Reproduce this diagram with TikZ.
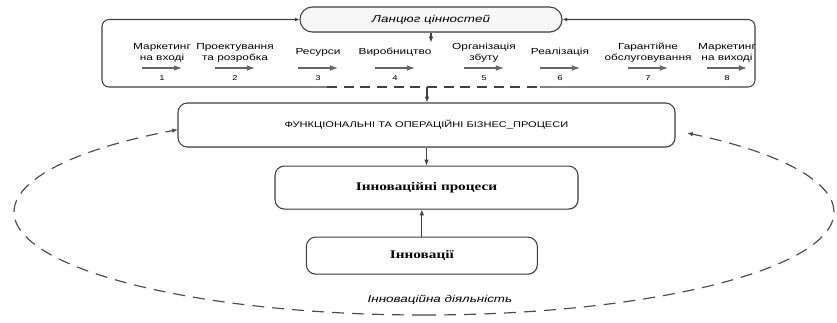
\documentclass[tikz,border=0pt]{standalone}
\usepackage{fontspec}
\setmainfont{Liberation Sans}
\newfontfamily\widesans{Liberation Sans}[FakeStretch=1.35]
\newfontfamily\wideserif{Liberation Serif}[FakeStretch=1.3]
\usepackage{tikz}
\usetikzlibrary{positioning,arrows.meta,shadows}

\tikzset{
  box/.style={draw=black!75, line width=0.9pt, rounded corners=8pt, fill=white, align=center,
    drop shadow={opacity=0.25, shadow xshift=0.8pt, shadow yshift=-0.8pt}},
  stage/.style={font=\widesans\fontsize{7.5}{9}\selectfont, align=center, inner sep=0pt},
  nr/.style={font=\widesans\fontsize{6}{7}\selectfont, inner sep=0pt},
  conn/.style={draw=black!75, line width=0.9pt},
  tip/.style={-{Latex[length=5pt,width=4pt]}},
  stagetip/.style={-{Latex[length=7pt,width=5pt]}, draw=black!60, line width=1pt},
  looparc/.style={draw=black!70, line width=1pt, dash pattern=on 3.6mm off 2.4mm},
}

\begin{document}
\begin{tikzpicture}
  \useasboundingbox (0,0) rectangle (25.11,-9.66);

  % Ланцюг цінностей
  \node[box, rounded corners=0.37cm, minimum width=7.86cm, minimum height=0.75cm, fill=gray!6,
        font=\widesans\itshape\fontsize{8.5}{10}\selectfont] (chain) at (12.93,-0.585) {Ланцюг цінностей};
  \coordinate[below=0.3cm of chain] (chin);
  \draw[conn, tip] (chain.south) -- (chin);

  % рамка навколо етапів
  \coordinate (lt) at (3.06,-0.585);
  \coordinate (lb) at (3.06,-2.61);
  \coordinate (rt) at (22.65,-0.585);
  \coordinate (rb) at (22.65,-2.61);
  \coordinate (gl) at (9.81,-2.61);
  \coordinate (gr) at (16.2,-2.61);
  \coordinate (gap) at (12.81,-2.61);
  \draw[conn, rounded corners=6pt, {Latex[length=4pt,width=3.5pt]}-] (chain.west) -- (lt) -- (lb) -- (gl);
  \draw[conn, rounded corners=6pt, {Latex[length=4pt,width=3.5pt]}-] (chain.east) -- (rt) -- (rb) -- (gr);
  \draw[conn, dash pattern=on 3mm off 2mm] (gl) -- (gr);

  % етапи
  \foreach \x/\txt [count=\i] in {4.86/{Маркетинг\\на вході}, 7.05/{Проектування\\та розробка},
      9.54/Ресурси, 11.85/Виробництво, 14.52/{Організація\\збуту}, 16.8/Реалізація,
      19.44/{Гарантійне\\обслуговування}, 21.81/{Маркетинг\\на виході}}{
    \node[stage] (st\i) at (\x,-1.58) {\txt};
    \coordinate (sa\i) at (\x-0.6,-2.04);
    \coordinate (sb\i) at (\x+0.6,-2.04);
    \draw[stagetip] (sa\i) -- (sb\i);
    \node[nr] (nr\i) at (\x,-2.33) {\i};
  }

  % процеси
  \node[box, minimum width=14.91cm, minimum height=1.32cm,
        font=\widesans\fontsize{7}{8}\selectfont] (func) at (12.795,-3.75)
        {ФУНКЦІОНАЛЬНІ ТА ОПЕРАЦІЙНІ БІЗНЕС\_ПРОЦЕСИ};
  \node[box, below=0.54cm of func, minimum width=9.09cm, minimum height=1.29cm,
        font=\wideserif\bfseries\fontsize{10}{12}\selectfont] (proc) {Інноваційні процеси};
  \node[box, below=0.81cm of proc, xshift=-0.14cm, minimum width=6.93cm, minimum height=1.11cm,
        font=\wideserif\bfseries\fontsize{10}{12}\selectfont] (innov) {Інновації};

  \draw[conn, tip] (gap) -- (gap |- func.north);
  \draw[conn, tip] (func.south) -- (proc.north);
  \draw[conn, tip] (innov.north) -- (innov.north |- proc.south);

  % інноваційна діяльність
  \coordinate (ebot) at (12.72,-9.45);
  \draw[looparc, tip] (ebot) arc[start angle=270, end angle=126.87, x radius=12.3cm, y radius=3.09cm];
  \draw[looparc, tip] (ebot) arc[start angle=-90, end angle=50.1, x radius=12.3cm, y radius=3.09cm];
  \node[font=\widesans\itshape\fontsize{8.5}{10}\selectfont] (act) at (13.2,-9.0) {Інноваційна діяльність};
\end{tikzpicture}
\end{document}
